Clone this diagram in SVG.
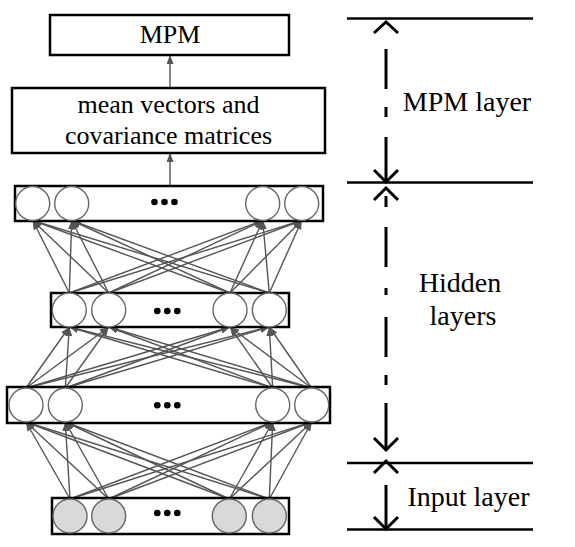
<svg xmlns="http://www.w3.org/2000/svg" width="575" height="547" viewBox="0 0 575 547">
<style>
.box{fill:#fff;stroke:#000;stroke-width:2.5}
.nd{fill:#fff;stroke:#666;stroke-width:1.4}
.in{fill:#d9d9d9;stroke:#666;stroke-width:1.4}
.dot{fill:#000}
.cn{stroke:#555;stroke-width:1.4;fill:none;marker-end:url(#ah)}
.t{font-family:"Liberation Serif","Times New Roman",serif;fill:#000;text-anchor:middle}
.dim{stroke:#000;stroke-width:3;fill:none}
.rule{stroke:#000;stroke-width:2.5}
</style>
<defs>
<marker id="ah" markerWidth="9" markerHeight="7" refX="9" refY="3.5" orient="auto" markerUnits="userSpaceOnUse">
<path d="M0,0 L9,3.5 L0,7 z" fill="#555"/>
</marker>
</defs>

<g id="connectors">
<!-- input -> hidden1 -->
<line class="cn" x1="70" y1="499" x2="26" y2="422"/>
<line class="cn" x1="70" y1="499" x2="65.3" y2="422"/>
<line class="cn" x1="70" y1="499" x2="272.7" y2="422"/>
<line class="cn" x1="70" y1="499" x2="311.7" y2="422"/>
<line class="cn" x1="108.7" y1="499" x2="26" y2="422"/>
<line class="cn" x1="108.7" y1="499" x2="65.3" y2="422"/>
<line class="cn" x1="108.7" y1="499" x2="272.7" y2="422"/>
<line class="cn" x1="108.7" y1="499" x2="311.7" y2="422"/>
<line class="cn" x1="229.3" y1="499" x2="26" y2="422"/>
<line class="cn" x1="229.3" y1="499" x2="65.3" y2="422"/>
<line class="cn" x1="229.3" y1="499" x2="272.7" y2="422"/>
<line class="cn" x1="229.3" y1="499" x2="311.7" y2="422"/>
<line class="cn" x1="269.3" y1="499" x2="26" y2="422"/>
<line class="cn" x1="269.3" y1="499" x2="65.3" y2="422"/>
<line class="cn" x1="269.3" y1="499" x2="272.7" y2="422"/>
<line class="cn" x1="269.3" y1="499" x2="311.7" y2="422"/>
<!-- hidden1 -> hidden2 -->
<line class="cn" x1="26" y1="388" x2="69.3" y2="327"/>
<line class="cn" x1="26" y1="388" x2="108.7" y2="327"/>
<line class="cn" x1="26" y1="388" x2="230" y2="327"/>
<line class="cn" x1="26" y1="388" x2="269.3" y2="327"/>
<line class="cn" x1="65.3" y1="388" x2="69.3" y2="327"/>
<line class="cn" x1="65.3" y1="388" x2="108.7" y2="327"/>
<line class="cn" x1="65.3" y1="388" x2="230" y2="327"/>
<line class="cn" x1="65.3" y1="388" x2="269.3" y2="327"/>
<line class="cn" x1="272.7" y1="388" x2="69.3" y2="327"/>
<line class="cn" x1="272.7" y1="388" x2="108.7" y2="327"/>
<line class="cn" x1="272.7" y1="388" x2="230" y2="327"/>
<line class="cn" x1="272.7" y1="388" x2="269.3" y2="327"/>
<line class="cn" x1="311.7" y1="388" x2="69.3" y2="327"/>
<line class="cn" x1="311.7" y1="388" x2="108.7" y2="327"/>
<line class="cn" x1="311.7" y1="388" x2="230" y2="327"/>
<line class="cn" x1="311.7" y1="388" x2="269.3" y2="327"/>
<!-- hidden2 -> hidden3 -->
<line class="cn" x1="69.3" y1="293" x2="32.7" y2="220.5"/>
<line class="cn" x1="69.3" y1="293" x2="71.7" y2="220.5"/>
<line class="cn" x1="69.3" y1="293" x2="262.7" y2="220.5"/>
<line class="cn" x1="69.3" y1="293" x2="301.7" y2="220.5"/>
<line class="cn" x1="108.7" y1="293" x2="32.7" y2="220.5"/>
<line class="cn" x1="108.7" y1="293" x2="71.7" y2="220.5"/>
<line class="cn" x1="108.7" y1="293" x2="262.7" y2="220.5"/>
<line class="cn" x1="108.7" y1="293" x2="301.7" y2="220.5"/>
<line class="cn" x1="230" y1="293" x2="32.7" y2="220.5"/>
<line class="cn" x1="230" y1="293" x2="71.7" y2="220.5"/>
<line class="cn" x1="230" y1="293" x2="262.7" y2="220.5"/>
<line class="cn" x1="230" y1="293" x2="301.7" y2="220.5"/>
<line class="cn" x1="269.3" y1="293" x2="32.7" y2="220.5"/>
<line class="cn" x1="269.3" y1="293" x2="71.7" y2="220.5"/>
<line class="cn" x1="269.3" y1="293" x2="262.7" y2="220.5"/>
<line class="cn" x1="269.3" y1="293" x2="301.7" y2="220.5"/>
<!-- hidden3 -> stats, stats -> MPM -->
<line class="cn" x1="170" y1="186" x2="170" y2="153"/>
<line class="cn" x1="170" y1="88" x2="170" y2="55"/>
</g>

<g id="mpm">
<rect class="box" x="50" y="15" width="239" height="40"/>
<text class="t" x="170" y="43" font-size="26">MPM</text>
</g>

<g id="stats">
<rect class="box" x="12" y="88" width="313" height="65"/>
<text class="t" x="168.5" y="113" font-size="26">mean vectors and</text>
<text class="t" x="168.5" y="144" font-size="26">covariance matrices</text>
</g>

<g id="hidden3">
<rect class="box" x="15" y="186" width="308" height="35"/>
<circle class="nd" cx="32.7" cy="203.5" r="17"/>
<circle class="nd" cx="71.7" cy="203.5" r="17"/>
<circle class="nd" cx="262.7" cy="203.5" r="17"/>
<circle class="nd" cx="301.7" cy="203.5" r="17"/>
<circle class="dot" cx="154.5" cy="202" r="3.3"/>
<circle class="dot" cx="164.5" cy="202" r="3.3"/>
<circle class="dot" cx="174.5" cy="202" r="3.3"/>
</g>

<g id="hidden2">
<rect class="box" x="51" y="293" width="238" height="34"/>
<circle class="nd" cx="69.3" cy="310" r="17"/>
<circle class="nd" cx="108.7" cy="310" r="17"/>
<circle class="nd" cx="230" cy="310" r="17"/>
<circle class="nd" cx="269.3" cy="310" r="17"/>
<circle class="dot" cx="157.3" cy="311" r="3.3"/>
<circle class="dot" cx="167.3" cy="311" r="3.3"/>
<circle class="dot" cx="177.3" cy="311" r="3.3"/>
</g>

<g id="hidden1">
<rect class="box" x="7" y="387" width="323" height="36"/>
<circle class="nd" cx="26" cy="405" r="17"/>
<circle class="nd" cx="65.3" cy="405" r="17"/>
<circle class="nd" cx="272.7" cy="405" r="17"/>
<circle class="nd" cx="311.7" cy="405" r="17"/>
<circle class="dot" cx="157.3" cy="405.3" r="3.3"/>
<circle class="dot" cx="167.3" cy="405.3" r="3.3"/>
<circle class="dot" cx="177.3" cy="405.3" r="3.3"/>
</g>

<g id="input">
<rect class="box" x="52" y="498" width="237" height="36"/>
<circle class="in" cx="70" cy="516" r="17"/>
<circle class="in" cx="108.7" cy="516" r="17"/>
<circle class="in" cx="229.3" cy="516" r="17"/>
<circle class="in" cx="269.3" cy="516" r="17"/>
<circle class="dot" cx="157.3" cy="513" r="3.3"/>
<circle class="dot" cx="167.3" cy="513" r="3.3"/>
<circle class="dot" cx="177.3" cy="513" r="3.3"/>
</g>

<g id="layer-scale">
<line class="rule" x1="347" y1="18.5" x2="533" y2="18.5"/>
<line class="rule" x1="347" y1="182.5" x2="533" y2="182.5"/>
<line class="rule" x1="347" y1="463" x2="533" y2="463"/>
<line class="rule" x1="347" y1="529.5" x2="533" y2="529.5"/>
<!-- MPM layer -->
<polyline class="dim" points="374,33 386,22 398,33"/>
<line class="dim" x1="386" y1="49" x2="386" y2="89"/>
<line class="dim" x1="386" y1="107" x2="386" y2="117"/>
<line class="dim" x1="386" y1="137" x2="386" y2="182"/>
<polyline class="dim" points="374,170 386,182 398,170"/>
<!-- Hidden layers -->
<polyline class="dim" points="374,200 386,188 398,200"/>
<line class="dim" x1="386" y1="196" x2="386" y2="207"/>
<line class="dim" x1="386" y1="227" x2="386" y2="267"/>
<line class="dim" x1="386" y1="288" x2="386" y2="295"/>
<line class="dim" x1="386" y1="317" x2="386" y2="357"/>
<line class="dim" x1="386" y1="375" x2="386" y2="385"/>
<line class="dim" x1="386" y1="403" x2="386" y2="450"/>
<polyline class="dim" points="374,438 386,450 398,438"/>
<!-- Input layer -->
<polyline class="dim" points="374,473 386,461 398,473"/>
<line class="dim" x1="386" y1="485" x2="386" y2="529"/>
<polyline class="dim" points="374,517 386,529 398,517"/>
<text class="t" x="467" y="111" font-size="28">MPM layer</text>
<text class="t" x="460" y="292" font-size="28">Hidden</text>
<text class="t" x="463" y="325" font-size="28">layers</text>
<text class="t" x="468.5" y="506" font-size="28">Input layer</text>
</g>
</svg>
